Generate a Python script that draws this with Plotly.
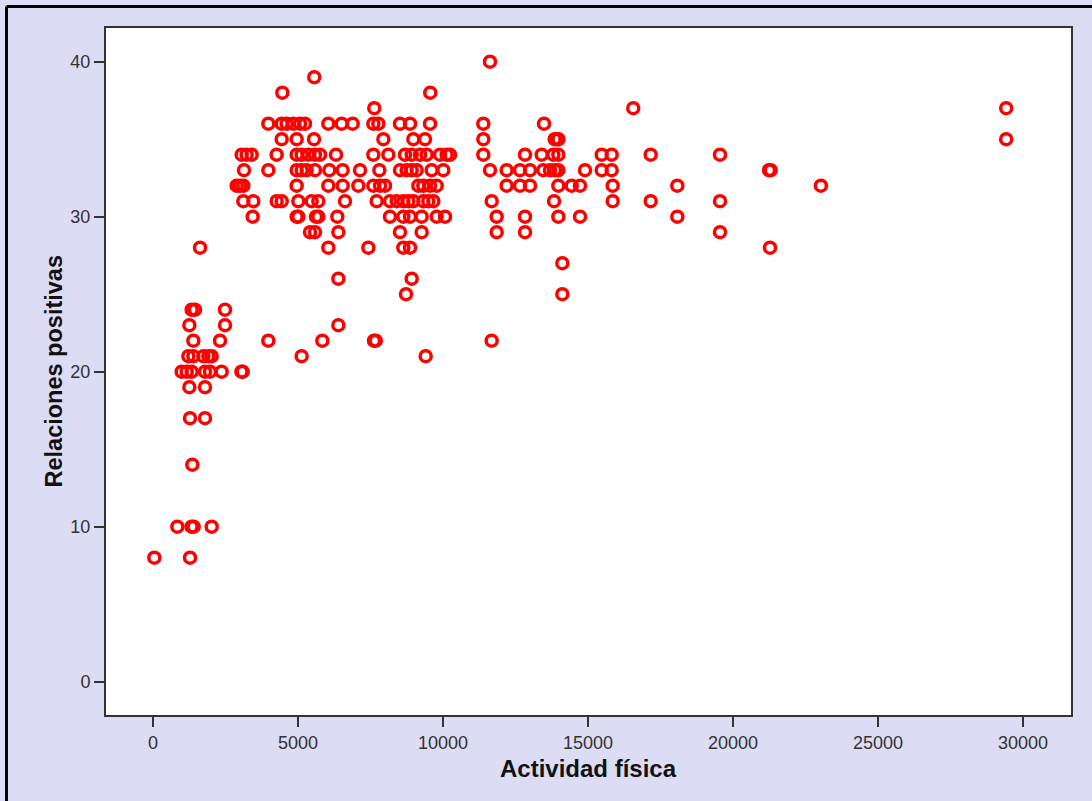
import plotly.graph_objects as go

# Values, grouped by "Relaciones positivas" score
rows = {
    40: [11620],
    39: [5560],
    38: [4460, 9560],
    37: [7630, 16560, 29420],
    36: [3977, 4437, 4609, 4839, 5069, 5241, 6046, 6506, 6885, 7598, 7770, 8517, 8862, 9552, 11390, 13483],
    35: [4437, 4954, 5552, 7943, 8977, 9379, 11390, 13850, 13920, 13980, 29420],
    34: [3058, 3230, 3402, 4264, 4954, 5126, 5356, 5586, 5759, 6310, 7598, 8115, 8690, 8920, 9207, 9437,
         9897, 10126, 10241, 11390, 12828, 13402, 13804, 13977, 15472, 15816, 17161, 19552],
    33: [3138, 3977, 4954, 5126, 5299, 5586, 6080, 6540, 7138, 7805, 8517, 8747, 8920, 9092, 9609, 10011,
         11620, 12195, 12655, 13000, 13460, 13690, 13862, 13977, 14897, 15472, 15816, 21241, 21300],
    32: [2885, 3000, 3115, 4954, 6046, 6540, 7080, 7598, 7828, 8000, 9149, 9321, 9552, 9782, 12195, 12655,
         13000, 13977, 14437, 14724, 15851, 18080, 23030],
    31: [3115, 3460, 4264, 4437, 5011, 5471, 5701, 6621, 7713, 8172, 8402, 8632, 8805, 8977, 9322, 9494,
         9667, 11678, 13828, 15851, 17161, 19552],
    30: [3437, 4954, 5011, 5621, 5701, 6356, 8172, 8632, 8862, 9264, 9782, 10069, 11851, 12828, 13977,
         14724, 18080],
    29: [5414, 5586, 6391, 8517, 9264, 11851, 12828, 19552],
    28: [1621, 6046, 7425, 8632, 8862, 21276],
    27: [14115],
    26: [6391, 8920],
    25: [8724, 14115],
    24: [1333, 1448, 2483],
    23: [1253, 2483, 6391],
    22: [1391, 2310, 3977, 5839, 7621, 7680, 11678],
    21: [1218, 1391, 1736, 1908, 2023, 5126, 9402],
    20: [989, 1161, 1333, 1793, 1966, 2368, 3050, 3092],
    19: [1253, 1793],
    17: [1276, 1793],
    14: [1356],
    10: [839, 1330, 1400, 2023],
    8: [46, 1276],
}

actividad_fisica = [x for yv, xs in rows.items() for x in xs]
relaciones_positivas = [yv for yv, xs in rows.items() for _ in xs]

x_ticks = [0, 5000, 10000, 15000, 20000, 25000, 30000]
y_ticks = [0, 10, 20, 30, 40]

W, H = 1092, 801
ML, MR, MT, MB = 106, 21, 28, 86
PW, PH = W - ML - MR, H - MT - MB

fig = go.Figure(go.Scatter(
    x=actividad_fisica, y=relaciones_positivas, mode="markers",
    marker=dict(symbol="circle-open", size=11, color="#ff0000",
                line=dict(width=3.5, color="#ff0000")),
    hoverinfo="x+y",
))

axis_common = dict(
    showgrid=False, zeroline=False, showline=True, mirror=True,
    linecolor="#333333", linewidth=2, ticks="outside", ticklen=10,
    tickwidth=2, tickcolor="#333333",
    tickfont=dict(family="Liberation Sans, Arial, sans-serif", size=18, color="#333333"),
)

fig.update_layout(
    width=W, height=H,
    margin=dict(l=ML, r=MR, t=MT, b=MB),
    paper_bgcolor="#dcdcf5", plot_bgcolor="#ffffff",
    showlegend=False,
    xaxis=dict(range=[-1621, 31655], tickvals=x_ticks, ticktext=[str(v) for v in x_ticks], **axis_common),
    yaxis=dict(range=[-2.15, 42.17], tickvals=y_ticks, ticktext=[str(v) for v in y_ticks], **axis_common),
    annotations=[
        dict(text="<b>Actividad física</b>", xref="paper", yref="paper",
             x=0.5, y=-(768 - MT - PH) / PH, xanchor="center", yanchor="middle",
             showarrow=False, font=dict(family="Liberation Sans, Arial, sans-serif", size=24, color="#111111")),
        dict(text="<b>Relaciones positivas</b>", xref="paper", yref="paper",
             x=(53 - ML) / PW, y=0.5, xanchor="center", yanchor="middle", textangle=-90,
             showarrow=False, font=dict(family="Liberation Sans, Arial, sans-serif", size=23.5, color="#111111")),
    ],
    shapes=[
        dict(type="line", xref="paper", yref="paper",
             x0=(6.5 - ML) / PW, x1=(W + 5 - ML) / PW,
             y0=(H - 6.5 - MB) / PH, y1=(H - 6.5 - MB) / PH,
             line=dict(color="#000000", width=3)),
        dict(type="line", xref="paper", yref="paper",
             x0=(6.5 - ML) / PW, x1=(6.5 - ML) / PW,
             y0=(H - 6.5 - MB) / PH, y1=-(MB + 5) / PH,
             line=dict(color="#000000", width=3)),
    ],
)

fig.write_html("out.html")
